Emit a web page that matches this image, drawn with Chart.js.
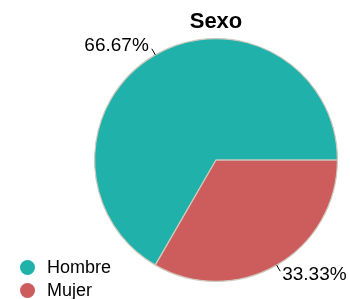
<!DOCTYPE html>
<html><head><meta charset="utf-8">
<script src="https://cdn.jsdelivr.net/npm/chart.js@4/dist/chart.umd.min.js"></script>
<style>
html,body{margin:0;padding:0;background:#fff;}
#wrap{position:relative;width:350px;height:299px;}
#legend{position:absolute;left:20px;top:256px;font-family:"Liberation Sans",Arial,sans-serif;font-size:18px;color:#000;}
#legend div{height:23px;line-height:23px;white-space:nowrap;}
#legend span.dot{display:inline-block;width:15px;height:15px;border-radius:50%;vertical-align:-2px;margin-right:12px;}
</style></head>
<body><div id="wrap"><canvas id="c" width="350" height="299"></canvas><div id="legend"></div></div>
<script>
const categories = ["Hombre", "Mujer"];
const values = [66.67, 33.33];
const labelsText = ["66.67%", "33.33%"];
const colors = ["#20B2AA", "#CD5C5C"];
const titleText = "Sexo";

const leg = document.getElementById('legend');
categories.forEach((c,i)=>{
  const d=document.createElement('div');
  const s=document.createElement('span'); s.className='dot'; s.style.background=colors[i];
  d.appendChild(s); d.appendChild(document.createTextNode(c)); leg.appendChild(d);
});

const outLabels = {
  id:'outLabels',
  afterDatasetsDraw(chart){
    const ctx=chart.ctx;
    const meta=chart.getDatasetMeta(0);
    ctx.save();
    ctx.font='19px "Liberation Sans", Arial, sans-serif';
    ctx.fillStyle='#000'; ctx.strokeStyle='#000'; ctx.lineWidth=1;
    meta.data.forEach((arc,i)=>{
      const p=arc.getProps(['x','y','startAngle','endAngle','outerRadius'],true);
      const a=(p.startAngle+p.endAngle)/2;
      const c=Math.cos(a), s=Math.sin(a);
      ctx.beginPath();
      ctx.moveTo(p.x+c*p.outerRadius, p.y+s*p.outerRadius);
      ctx.lineTo(p.x+c*(p.outerRadius+7), p.y+s*(p.outerRadius+7));
      ctx.stroke();
      const r=p.outerRadius+11;
      ctx.textAlign = c<0 ? 'right':'left';
      ctx.textBaseline='middle';
      ctx.fillText(labelsText[i], p.x+c*r+(c<0?-1:0), p.y+s*r);
    });
    ctx.restore();
  }
};

new Chart(document.getElementById('c'),{
  type:'pie',
  data:{labels:categories,datasets:[{data:values,backgroundColor:colors,borderColor:'#cfcabd',borderWidth:1.2}]},
  options:{
    responsive:false,animation:false,rotation:210,
    layout:{padding:{left:94,right:12,top:0,bottom:17}},
    plugins:{
      legend:{display:false},tooltip:{enabled:false},
      title:{display:true,text:titleText,color:'#000',font:{family:'"Liberation Sans", Arial, sans-serif',size:22,weight:'bold'},padding:{top:9,bottom:2.6}}
    }
  },
  plugins:[outLabels]
});
</script></body></html>
